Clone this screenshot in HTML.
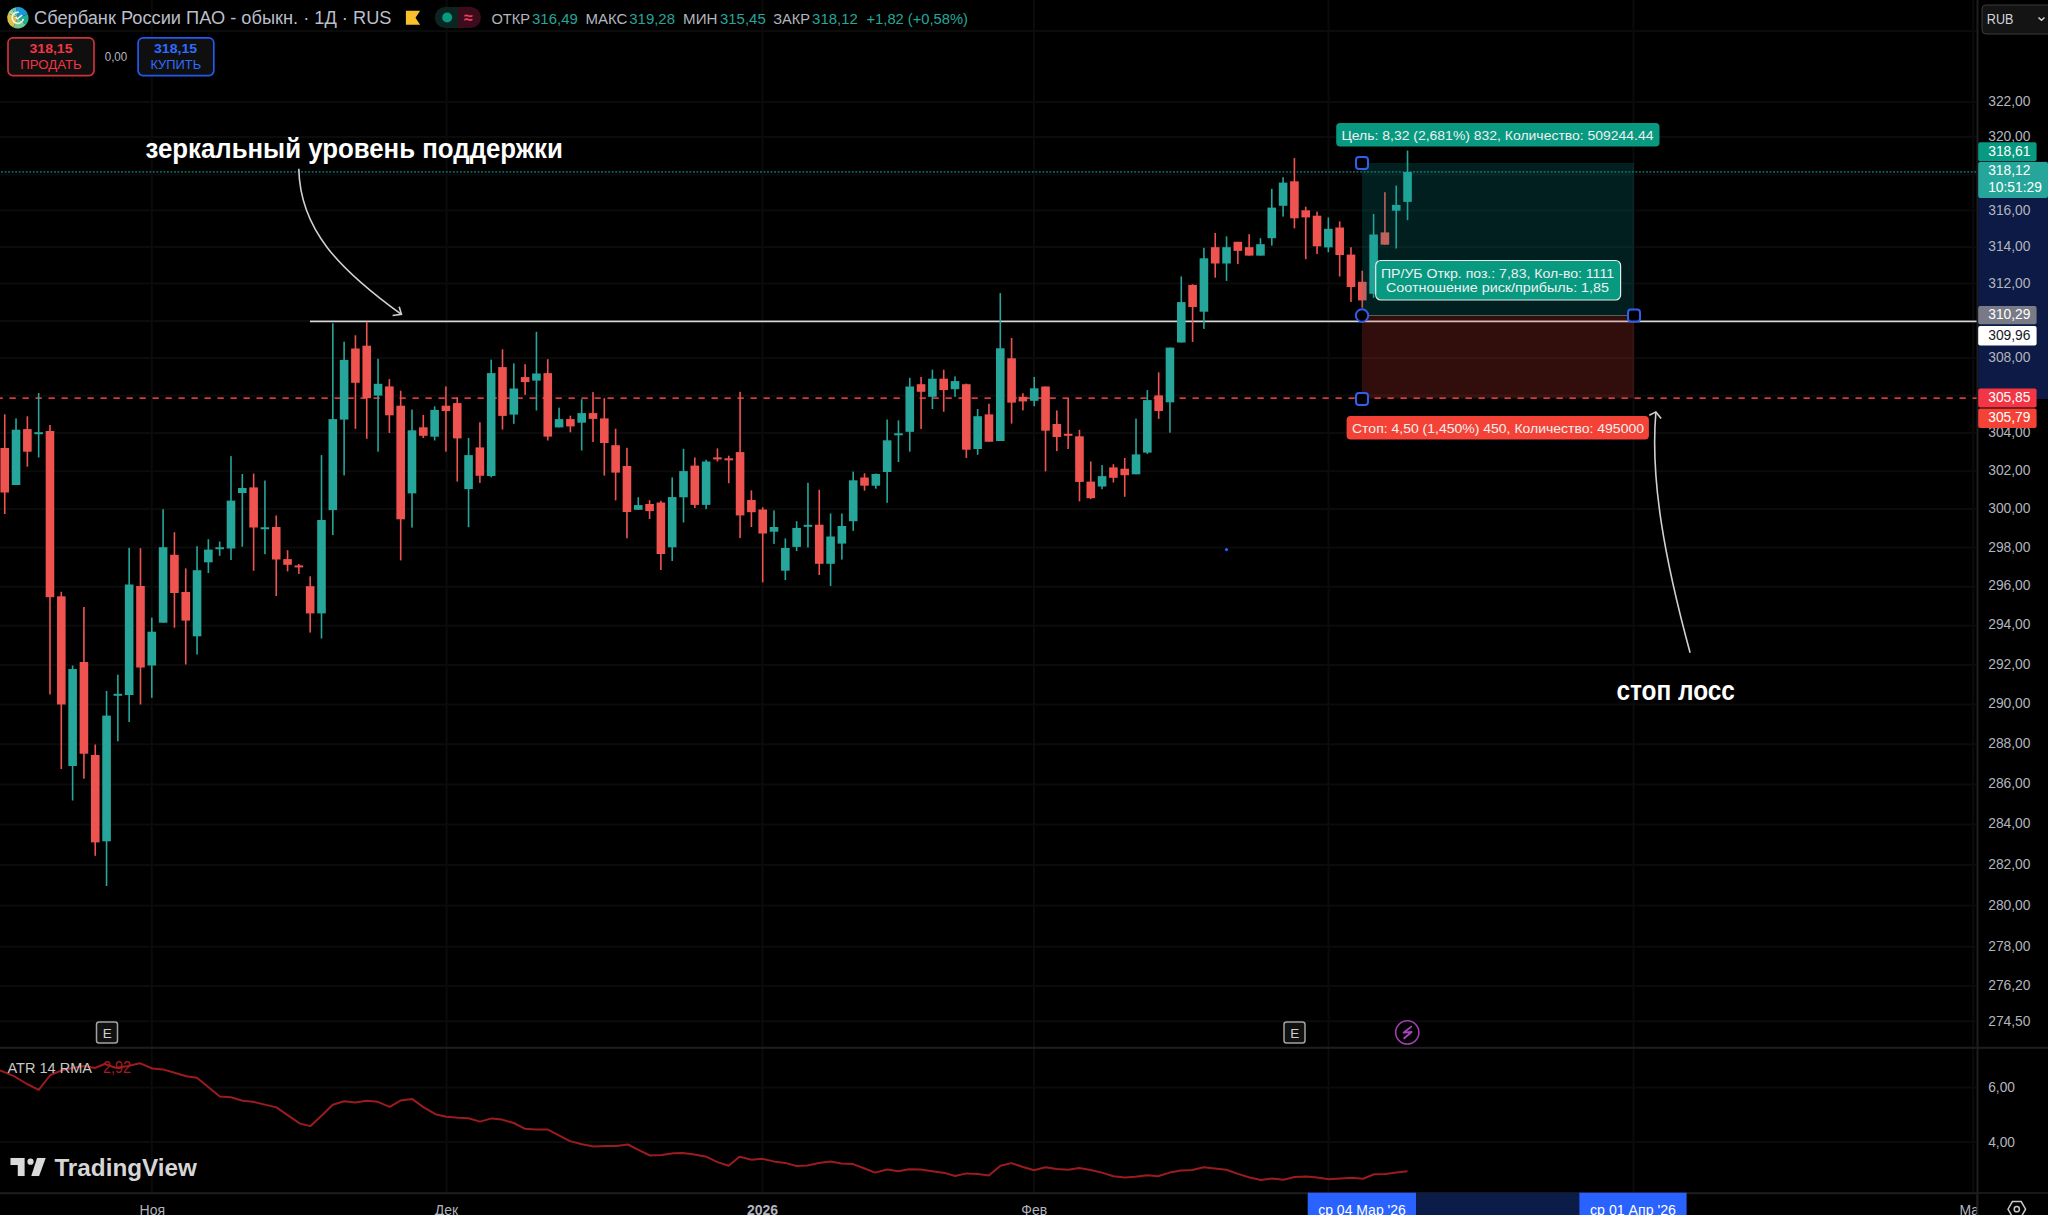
<!DOCTYPE html>
<html><head><meta charset="utf-8"><title>Сбербанк — TradingView</title>
<style>
html,body{margin:0;padding:0;background:#000;width:2048px;height:1215px;overflow:hidden}
svg{display:block}
</style></head><body>
<svg width="2048" height="1215" viewBox="0 0 2048 1215" shape-rendering="auto">
<rect width="2048" height="1215" fill="#000"/>
<rect x="0" y="30" width="1977" height="2" fill="#0b0b0b"/>
<rect x="0" y="101" width="1977" height="2" fill="#0b0b0b"/>
<rect x="0" y="136" width="1977" height="2" fill="#0b0b0b"/>
<rect x="0" y="173.5" width="1977" height="2" fill="#0b0b0b"/>
<rect x="0" y="209.4" width="1977" height="2" fill="#0b0b0b"/>
<rect x="0" y="246" width="1977" height="2" fill="#0b0b0b"/>
<rect x="0" y="282.5" width="1977" height="2" fill="#0b0b0b"/>
<rect x="0" y="320" width="1977" height="2" fill="#0b0b0b"/>
<rect x="0" y="357" width="1977" height="2" fill="#0b0b0b"/>
<rect x="0" y="394.6" width="1977" height="2" fill="#0b0b0b"/>
<rect x="0" y="432" width="1977" height="2" fill="#0b0b0b"/>
<rect x="0" y="470.2" width="1977" height="2" fill="#0b0b0b"/>
<rect x="0" y="508" width="1977" height="2" fill="#0b0b0b"/>
<rect x="0" y="546.6" width="1977" height="2" fill="#0b0b0b"/>
<rect x="0" y="585.8" width="1977" height="2" fill="#0b0b0b"/>
<rect x="0" y="624.7" width="1977" height="2" fill="#0b0b0b"/>
<rect x="0" y="664" width="1977" height="2" fill="#0b0b0b"/>
<rect x="0" y="703.5" width="1977" height="2" fill="#0b0b0b"/>
<rect x="0" y="743.2" width="1977" height="2" fill="#0b0b0b"/>
<rect x="0" y="783.4" width="1977" height="2" fill="#0b0b0b"/>
<rect x="0" y="823.5" width="1977" height="2" fill="#0b0b0b"/>
<rect x="0" y="864" width="1977" height="2" fill="#0b0b0b"/>
<rect x="0" y="904.6" width="1977" height="2" fill="#0b0b0b"/>
<rect x="0" y="945.7" width="1977" height="2" fill="#0b0b0b"/>
<rect x="0" y="985" width="1977" height="2" fill="#0b0b0b"/>
<rect x="0" y="1020.2" width="1977" height="2" fill="#0b0b0b"/>
<rect x="0" y="1086.6" width="1977" height="2" fill="#0b0b0b"/>
<rect x="0" y="1141" width="1977" height="2" fill="#0b0b0b"/>
<rect x="150.8" y="0" width="2" height="1193" fill="#0b0b0b"/>
<rect x="445.6" y="0" width="2" height="1193" fill="#0b0b0b"/>
<rect x="761.5" y="0" width="2" height="1193" fill="#0b0b0b"/>
<rect x="1033" y="0" width="2" height="1193" fill="#0b0b0b"/>
<rect x="1327.5" y="0" width="2" height="1193" fill="#0b0b0b"/>
<rect x="1632.5" y="0" width="2" height="1193" fill="#0b0b0b"/>
<rect x="1972.2" y="0" width="2" height="1193" fill="#0b0b0b"/>
<line x1="-3.5" y1="398.2" x2="1977" y2="398.2" stroke="#d13a41" stroke-width="1.7" stroke-dasharray="6.3 6.7"/>
<line x1="-2.47" y1="171.9" x2="1977" y2="171.9" stroke="#10625a" stroke-width="1.9" stroke-dasharray="1.9 1.63"/>
<rect x="310" y="320.55" width="1667" height="1.7" fill="#d8d8d8"/>
<rect x="3.93" y="414.3" width="1.6" height="99.7" fill="#ef5350"/>
<rect x="0.43" y="448" width="8.6" height="44.5" fill="#ef5350"/>
<rect x="15.24" y="418.4" width="1.6" height="66.6" fill="#26a69a"/>
<rect x="11.74" y="429.7" width="8.6" height="55.3" fill="#26a69a"/>
<rect x="26.56" y="416.3" width="1.6" height="50.4" fill="#ef5350"/>
<rect x="23.06" y="429.1" width="8.6" height="22.6" fill="#ef5350"/>
<rect x="37.87" y="393" width="1.6" height="64.5" fill="#26a69a"/>
<rect x="34.37" y="432.2" width="8.6" height="2" fill="#26a69a"/>
<rect x="49.18" y="425" width="1.6" height="269.5" fill="#ef5350"/>
<rect x="45.68" y="431" width="8.6" height="166.2" fill="#ef5350"/>
<rect x="60.5" y="591.8" width="1.6" height="177.2" fill="#ef5350"/>
<rect x="57" y="596.3" width="8.6" height="108.2" fill="#ef5350"/>
<rect x="71.81" y="665.5" width="1.6" height="135" fill="#26a69a"/>
<rect x="68.31" y="669" width="8.6" height="97" fill="#26a69a"/>
<rect x="83.12" y="607" width="1.6" height="171.7" fill="#ef5350"/>
<rect x="79.62" y="662" width="8.6" height="91.7" fill="#ef5350"/>
<rect x="94.44" y="744.5" width="1.6" height="111.3" fill="#ef5350"/>
<rect x="90.94" y="755" width="8.6" height="87.4" fill="#ef5350"/>
<rect x="105.75" y="691" width="1.6" height="195" fill="#26a69a"/>
<rect x="102.25" y="715.6" width="8.6" height="125.7" fill="#26a69a"/>
<rect x="117.06" y="674.7" width="1.6" height="66.6" fill="#26a69a"/>
<rect x="113.56" y="693.8" width="8.6" height="2" fill="#26a69a"/>
<rect x="128.37" y="547.8" width="1.6" height="174.2" fill="#26a69a"/>
<rect x="124.87" y="584.5" width="8.6" height="110.5" fill="#26a69a"/>
<rect x="139.69" y="548.2" width="1.6" height="156.3" fill="#ef5350"/>
<rect x="136.19" y="586" width="8.6" height="81.5" fill="#ef5350"/>
<rect x="151" y="617.6" width="1.6" height="80.2" fill="#26a69a"/>
<rect x="147.5" y="631.7" width="8.6" height="33.8" fill="#26a69a"/>
<rect x="162.31" y="509.2" width="1.6" height="113.5" fill="#26a69a"/>
<rect x="158.81" y="547.2" width="8.6" height="75.5" fill="#26a69a"/>
<rect x="173.63" y="532.2" width="1.6" height="95.5" fill="#ef5350"/>
<rect x="170.13" y="554.8" width="8.6" height="38.2" fill="#ef5350"/>
<rect x="184.94" y="568.4" width="1.6" height="96.1" fill="#ef5350"/>
<rect x="181.44" y="592" width="8.6" height="28.6" fill="#ef5350"/>
<rect x="196.25" y="546.2" width="1.6" height="108.3" fill="#26a69a"/>
<rect x="192.75" y="570.2" width="8.6" height="66.1" fill="#26a69a"/>
<rect x="207.56" y="539.2" width="1.6" height="33.8" fill="#26a69a"/>
<rect x="204.06" y="549.6" width="8.6" height="12.7" fill="#26a69a"/>
<rect x="218.88" y="541.5" width="1.6" height="14.3" fill="#26a69a"/>
<rect x="215.38" y="547.25" width="8.6" height="2" fill="#26a69a"/>
<rect x="230.19" y="456.1" width="1.6" height="103.9" fill="#26a69a"/>
<rect x="226.69" y="500.6" width="8.6" height="47.9" fill="#26a69a"/>
<rect x="241.5" y="474" width="1.6" height="72.7" fill="#26a69a"/>
<rect x="238" y="488" width="8.6" height="5" fill="#26a69a"/>
<rect x="252.82" y="473.6" width="1.6" height="97.2" fill="#ef5350"/>
<rect x="249.32" y="487.4" width="8.6" height="40.1" fill="#ef5350"/>
<rect x="264.13" y="480.5" width="1.6" height="73.7" fill="#26a69a"/>
<rect x="260.63" y="527.25" width="8.6" height="2" fill="#26a69a"/>
<rect x="275.44" y="515.5" width="1.6" height="80.5" fill="#ef5350"/>
<rect x="271.94" y="527" width="8.6" height="32.5" fill="#ef5350"/>
<rect x="286.76" y="550.2" width="1.6" height="21.2" fill="#ef5350"/>
<rect x="283.26" y="559.1" width="8.6" height="5.7" fill="#ef5350"/>
<rect x="298.07" y="564" width="1.6" height="10" fill="#ef5350"/>
<rect x="294.57" y="565.4" width="8.6" height="2" fill="#ef5350"/>
<rect x="309.38" y="576.3" width="1.6" height="56.3" fill="#ef5350"/>
<rect x="305.88" y="586.2" width="8.6" height="27.2" fill="#ef5350"/>
<rect x="320.69" y="455.1" width="1.6" height="183.4" fill="#26a69a"/>
<rect x="317.19" y="520" width="8.6" height="93.4" fill="#26a69a"/>
<rect x="332.01" y="323.3" width="1.6" height="211.8" fill="#26a69a"/>
<rect x="328.51" y="419.1" width="8.6" height="91" fill="#26a69a"/>
<rect x="343.32" y="341.7" width="1.6" height="133.7" fill="#26a69a"/>
<rect x="339.82" y="359.9" width="8.6" height="59.7" fill="#26a69a"/>
<rect x="354.63" y="335.3" width="1.6" height="93.5" fill="#ef5350"/>
<rect x="351.13" y="348.5" width="8.6" height="34.3" fill="#ef5350"/>
<rect x="365.95" y="321.8" width="1.6" height="117" fill="#ef5350"/>
<rect x="362.45" y="345.7" width="8.6" height="52.5" fill="#ef5350"/>
<rect x="377.26" y="358.8" width="1.6" height="92.9" fill="#26a69a"/>
<rect x="373.76" y="383.8" width="8.6" height="11.8" fill="#26a69a"/>
<rect x="388.57" y="379.1" width="1.6" height="53.9" fill="#ef5350"/>
<rect x="385.07" y="386.4" width="8.6" height="28.9" fill="#ef5350"/>
<rect x="399.89" y="390.7" width="1.6" height="169.7" fill="#ef5350"/>
<rect x="396.39" y="405.7" width="8.6" height="113.6" fill="#ef5350"/>
<rect x="411.2" y="409.5" width="1.6" height="118.1" fill="#26a69a"/>
<rect x="407.7" y="430.3" width="8.6" height="63.1" fill="#26a69a"/>
<rect x="422.51" y="414.9" width="1.6" height="23.1" fill="#ef5350"/>
<rect x="419.01" y="427.3" width="8.6" height="8.5" fill="#ef5350"/>
<rect x="433.82" y="406.3" width="1.6" height="34.2" fill="#26a69a"/>
<rect x="430.32" y="409.9" width="8.6" height="26.8" fill="#26a69a"/>
<rect x="445.14" y="386.4" width="1.6" height="65.3" fill="#ef5350"/>
<rect x="441.64" y="405.7" width="8.6" height="5.3" fill="#ef5350"/>
<rect x="456.45" y="397.3" width="1.6" height="84.3" fill="#ef5350"/>
<rect x="452.95" y="403.1" width="8.6" height="35.3" fill="#ef5350"/>
<rect x="467.76" y="438" width="1.6" height="89.2" fill="#26a69a"/>
<rect x="464.26" y="455.1" width="8.6" height="34" fill="#26a69a"/>
<rect x="479.08" y="422.3" width="1.6" height="60.6" fill="#ef5350"/>
<rect x="475.58" y="447.4" width="8.6" height="28.4" fill="#ef5350"/>
<rect x="490.39" y="359.6" width="1.6" height="117.7" fill="#26a69a"/>
<rect x="486.89" y="373.1" width="8.6" height="102.9" fill="#26a69a"/>
<rect x="501.7" y="349.3" width="1.6" height="80.3" fill="#ef5350"/>
<rect x="498.2" y="367.1" width="8.6" height="48.8" fill="#ef5350"/>
<rect x="513.02" y="363.4" width="1.6" height="60.4" fill="#26a69a"/>
<rect x="509.52" y="388.5" width="8.6" height="26.1" fill="#26a69a"/>
<rect x="524.33" y="364.3" width="1.6" height="30.6" fill="#ef5350"/>
<rect x="520.83" y="377.1" width="8.6" height="5" fill="#ef5350"/>
<rect x="535.64" y="331.8" width="1.6" height="78.7" fill="#26a69a"/>
<rect x="532.14" y="373.5" width="8.6" height="7.1" fill="#26a69a"/>
<rect x="546.96" y="359.2" width="1.6" height="81.3" fill="#ef5350"/>
<rect x="543.46" y="373.1" width="8.6" height="63.5" fill="#ef5350"/>
<rect x="558.27" y="407.7" width="1.6" height="19.7" fill="#26a69a"/>
<rect x="554.77" y="419.1" width="8.6" height="8.3" fill="#26a69a"/>
<rect x="569.58" y="415.7" width="1.6" height="16.6" fill="#ef5350"/>
<rect x="566.08" y="419.1" width="8.6" height="7.3" fill="#ef5350"/>
<rect x="580.89" y="399.2" width="1.6" height="51.3" fill="#26a69a"/>
<rect x="577.39" y="413.1" width="8.6" height="9.6" fill="#26a69a"/>
<rect x="592.21" y="392.1" width="1.6" height="49.9" fill="#ef5350"/>
<rect x="588.71" y="413.1" width="8.6" height="5.8" fill="#ef5350"/>
<rect x="603.52" y="398.1" width="1.6" height="77.5" fill="#ef5350"/>
<rect x="600.02" y="418.4" width="8.6" height="24.6" fill="#ef5350"/>
<rect x="614.83" y="428.7" width="1.6" height="71.7" fill="#ef5350"/>
<rect x="611.33" y="445.2" width="8.6" height="27.4" fill="#ef5350"/>
<rect x="626.15" y="447.8" width="1.6" height="90.5" fill="#ef5350"/>
<rect x="622.65" y="466" width="8.6" height="46" fill="#ef5350"/>
<rect x="637.46" y="497.2" width="1.6" height="12.6" fill="#26a69a"/>
<rect x="633.96" y="505.1" width="8.6" height="4.7" fill="#26a69a"/>
<rect x="648.77" y="500.2" width="1.6" height="18.8" fill="#ef5350"/>
<rect x="645.27" y="504" width="8.6" height="7.1" fill="#ef5350"/>
<rect x="660.09" y="500.8" width="1.6" height="69.2" fill="#ef5350"/>
<rect x="656.59" y="502.5" width="8.6" height="51.5" fill="#ef5350"/>
<rect x="671.4" y="477.4" width="1.6" height="83.6" fill="#26a69a"/>
<rect x="667.9" y="497.1" width="8.6" height="50.2" fill="#26a69a"/>
<rect x="682.71" y="448.8" width="1.6" height="73.7" fill="#26a69a"/>
<rect x="679.21" y="471.1" width="8.6" height="26.2" fill="#26a69a"/>
<rect x="694.02" y="457.5" width="1.6" height="50.5" fill="#ef5350"/>
<rect x="690.52" y="465.6" width="8.6" height="39.3" fill="#ef5350"/>
<rect x="705.34" y="459.7" width="1.6" height="49.4" fill="#26a69a"/>
<rect x="701.84" y="461.5" width="8.6" height="43.4" fill="#26a69a"/>
<rect x="716.65" y="448.4" width="1.6" height="13.1" fill="#ef5350"/>
<rect x="713.15" y="457.4" width="8.6" height="2" fill="#ef5350"/>
<rect x="727.96" y="455.7" width="1.6" height="27.5" fill="#ef5350"/>
<rect x="724.46" y="458.3" width="8.6" height="2" fill="#ef5350"/>
<rect x="739.28" y="391.8" width="1.6" height="146.3" fill="#ef5350"/>
<rect x="735.78" y="452.1" width="8.6" height="63.3" fill="#ef5350"/>
<rect x="750.59" y="490.4" width="1.6" height="36.6" fill="#ef5350"/>
<rect x="747.09" y="500" width="8.6" height="12.2" fill="#ef5350"/>
<rect x="761.9" y="507.3" width="1.6" height="75.1" fill="#ef5350"/>
<rect x="758.4" y="509.5" width="8.6" height="24" fill="#ef5350"/>
<rect x="773.22" y="510.4" width="1.6" height="33.5" fill="#26a69a"/>
<rect x="769.72" y="527" width="8.6" height="4.7" fill="#26a69a"/>
<rect x="784.53" y="538.4" width="1.6" height="41.7" fill="#26a69a"/>
<rect x="781.03" y="548" width="8.6" height="22.7" fill="#26a69a"/>
<rect x="795.84" y="521.2" width="1.6" height="29.9" fill="#26a69a"/>
<rect x="792.34" y="527.9" width="8.6" height="19" fill="#26a69a"/>
<rect x="807.15" y="482.8" width="1.6" height="64.8" fill="#26a69a"/>
<rect x="803.65" y="524.8" width="8.6" height="2" fill="#26a69a"/>
<rect x="818.47" y="489.8" width="1.6" height="85.2" fill="#ef5350"/>
<rect x="814.97" y="524.7" width="8.6" height="39.1" fill="#ef5350"/>
<rect x="829.78" y="513.5" width="1.6" height="72.5" fill="#26a69a"/>
<rect x="826.28" y="536.5" width="8.6" height="27.3" fill="#26a69a"/>
<rect x="841.09" y="513.5" width="1.6" height="46.1" fill="#26a69a"/>
<rect x="837.59" y="526" width="8.6" height="17.6" fill="#26a69a"/>
<rect x="852.41" y="471.6" width="1.6" height="59.3" fill="#26a69a"/>
<rect x="848.91" y="480.3" width="8.6" height="40.9" fill="#26a69a"/>
<rect x="863.72" y="473.3" width="1.6" height="17.4" fill="#ef5350"/>
<rect x="860.22" y="477.5" width="8.6" height="8.2" fill="#ef5350"/>
<rect x="875.03" y="473.5" width="1.6" height="15.2" fill="#26a69a"/>
<rect x="871.53" y="474" width="8.6" height="11.7" fill="#26a69a"/>
<rect x="886.35" y="419.5" width="1.6" height="83.3" fill="#26a69a"/>
<rect x="882.85" y="440.3" width="8.6" height="31.7" fill="#26a69a"/>
<rect x="897.66" y="420.4" width="1.6" height="41.6" fill="#26a69a"/>
<rect x="894.16" y="433.3" width="8.6" height="2" fill="#26a69a"/>
<rect x="908.97" y="377.8" width="1.6" height="73.9" fill="#26a69a"/>
<rect x="905.47" y="386.5" width="8.6" height="45.3" fill="#26a69a"/>
<rect x="920.28" y="376.9" width="1.6" height="52.2" fill="#ef5350"/>
<rect x="916.78" y="384.2" width="8.6" height="7.6" fill="#ef5350"/>
<rect x="931.6" y="369.7" width="1.6" height="39.3" fill="#26a69a"/>
<rect x="928.1" y="378.7" width="8.6" height="18.1" fill="#26a69a"/>
<rect x="942.91" y="369.7" width="1.6" height="42" fill="#ef5350"/>
<rect x="939.41" y="378.7" width="8.6" height="11.4" fill="#ef5350"/>
<rect x="954.22" y="376.4" width="1.6" height="20.4" fill="#26a69a"/>
<rect x="950.72" y="381.1" width="8.6" height="8.1" fill="#26a69a"/>
<rect x="965.54" y="383.6" width="1.6" height="74.4" fill="#ef5350"/>
<rect x="962.04" y="384.2" width="8.6" height="65.5" fill="#ef5350"/>
<rect x="976.85" y="409" width="1.6" height="45.8" fill="#26a69a"/>
<rect x="973.35" y="416.2" width="8.6" height="32.8" fill="#26a69a"/>
<rect x="988.16" y="403.7" width="1.6" height="38" fill="#ef5350"/>
<rect x="984.66" y="414.4" width="8.6" height="27.3" fill="#ef5350"/>
<rect x="999.48" y="293.1" width="1.6" height="147.9" fill="#26a69a"/>
<rect x="995.98" y="348.3" width="8.6" height="92.7" fill="#26a69a"/>
<rect x="1010.79" y="338" width="1.6" height="85.6" fill="#ef5350"/>
<rect x="1007.29" y="358.3" width="8.6" height="44.3" fill="#ef5350"/>
<rect x="1022.1" y="393.2" width="1.6" height="17.2" fill="#ef5350"/>
<rect x="1018.6" y="396.8" width="8.6" height="4.6" fill="#ef5350"/>
<rect x="1033.41" y="376.9" width="1.6" height="29.3" fill="#26a69a"/>
<rect x="1029.91" y="388.3" width="8.6" height="12.5" fill="#26a69a"/>
<rect x="1044.73" y="386.5" width="1.6" height="84.9" fill="#ef5350"/>
<rect x="1041.23" y="386.5" width="8.6" height="44.2" fill="#ef5350"/>
<rect x="1056.04" y="410.4" width="1.6" height="40.7" fill="#ef5350"/>
<rect x="1052.54" y="424" width="8.6" height="13" fill="#ef5350"/>
<rect x="1067.35" y="398.1" width="1.6" height="50.9" fill="#ef5350"/>
<rect x="1063.85" y="433.8" width="8.6" height="2" fill="#ef5350"/>
<rect x="1078.67" y="429.8" width="1.6" height="71.5" fill="#ef5350"/>
<rect x="1075.17" y="436.3" width="8.6" height="45.6" fill="#ef5350"/>
<rect x="1089.98" y="461.5" width="1.6" height="37.6" fill="#ef5350"/>
<rect x="1086.48" y="481.6" width="8.6" height="16.6" fill="#ef5350"/>
<rect x="1101.29" y="465.1" width="1.6" height="24.1" fill="#26a69a"/>
<rect x="1097.79" y="476.1" width="8.6" height="10.4" fill="#26a69a"/>
<rect x="1112.61" y="464.2" width="1.6" height="18.3" fill="#ef5350"/>
<rect x="1109.11" y="467.4" width="8.6" height="10.4" fill="#ef5350"/>
<rect x="1123.92" y="458" width="1.6" height="38.8" fill="#ef5350"/>
<rect x="1120.42" y="468.7" width="8.6" height="6.5" fill="#ef5350"/>
<rect x="1135.23" y="418.6" width="1.6" height="55.7" fill="#26a69a"/>
<rect x="1131.73" y="454.4" width="8.6" height="19.9" fill="#26a69a"/>
<rect x="1146.54" y="390.1" width="1.6" height="63.8" fill="#26a69a"/>
<rect x="1143.04" y="400.1" width="8.6" height="52.5" fill="#26a69a"/>
<rect x="1157.86" y="372.4" width="1.6" height="46.5" fill="#ef5350"/>
<rect x="1154.36" y="395.4" width="8.6" height="15.6" fill="#ef5350"/>
<rect x="1169.17" y="347.6" width="1.6" height="85.1" fill="#26a69a"/>
<rect x="1165.67" y="347.6" width="8.6" height="54.7" fill="#26a69a"/>
<rect x="1180.48" y="276.4" width="1.6" height="66.1" fill="#26a69a"/>
<rect x="1176.98" y="302.1" width="8.6" height="40.4" fill="#26a69a"/>
<rect x="1191.8" y="284.3" width="1.6" height="57.6" fill="#ef5350"/>
<rect x="1188.3" y="284.9" width="8.6" height="22.1" fill="#ef5350"/>
<rect x="1203.11" y="247.8" width="1.6" height="81.1" fill="#26a69a"/>
<rect x="1199.61" y="258.3" width="8.6" height="53.4" fill="#26a69a"/>
<rect x="1214.42" y="232.9" width="1.6" height="44.8" fill="#ef5350"/>
<rect x="1210.92" y="247.2" width="8.6" height="16.3" fill="#ef5350"/>
<rect x="1225.74" y="236.4" width="1.6" height="44.5" fill="#26a69a"/>
<rect x="1222.24" y="247.2" width="8.6" height="16.3" fill="#26a69a"/>
<rect x="1237.05" y="241.8" width="1.6" height="22.3" fill="#ef5350"/>
<rect x="1233.55" y="241.8" width="8.6" height="9.1" fill="#ef5350"/>
<rect x="1248.36" y="234.2" width="1.6" height="21.4" fill="#ef5350"/>
<rect x="1244.86" y="247.2" width="8.6" height="8.4" fill="#ef5350"/>
<rect x="1259.67" y="238.2" width="1.6" height="17.4" fill="#26a69a"/>
<rect x="1256.17" y="244.2" width="8.6" height="11.4" fill="#26a69a"/>
<rect x="1270.99" y="188.9" width="1.6" height="56.7" fill="#26a69a"/>
<rect x="1267.49" y="207.6" width="8.6" height="30.6" fill="#26a69a"/>
<rect x="1282.3" y="177.2" width="1.6" height="39.4" fill="#26a69a"/>
<rect x="1278.8" y="182.6" width="8.6" height="23.2" fill="#26a69a"/>
<rect x="1293.61" y="158.1" width="1.6" height="70.3" fill="#ef5350"/>
<rect x="1290.11" y="181.3" width="8.6" height="37" fill="#ef5350"/>
<rect x="1304.93" y="206.7" width="1.6" height="52.5" fill="#ef5350"/>
<rect x="1301.43" y="210.3" width="8.6" height="7.1" fill="#ef5350"/>
<rect x="1316.24" y="211.6" width="1.6" height="42.5" fill="#ef5350"/>
<rect x="1312.74" y="215.7" width="8.6" height="30.6" fill="#ef5350"/>
<rect x="1327.55" y="217.4" width="1.6" height="34.9" fill="#26a69a"/>
<rect x="1324.05" y="228.8" width="8.6" height="18.6" fill="#26a69a"/>
<rect x="1338.87" y="221.4" width="1.6" height="55.1" fill="#ef5350"/>
<rect x="1335.37" y="227.5" width="8.6" height="27.5" fill="#ef5350"/>
<rect x="1350.18" y="247.2" width="1.6" height="54.8" fill="#ef5350"/>
<rect x="1346.68" y="254.6" width="8.6" height="32.4" fill="#ef5350"/>
<rect x="1361.49" y="270.7" width="1.6" height="37.1" fill="#ef5350"/>
<rect x="1357.99" y="281.8" width="8.6" height="18.6" fill="#ef5350"/>
<rect x="1372.8" y="214" width="1.6" height="83.9" fill="#26a69a"/>
<rect x="1369.3" y="234.5" width="8.6" height="59.3" fill="#26a69a"/>
<rect x="1384.12" y="192.2" width="1.6" height="52.5" fill="#ef5350"/>
<rect x="1380.62" y="232.4" width="8.6" height="12.3" fill="#ef5350"/>
<rect x="1395.43" y="185.6" width="1.6" height="62.9" fill="#26a69a"/>
<rect x="1391.93" y="204.9" width="8.6" height="5.8" fill="#26a69a"/>
<rect x="1406.74" y="150.6" width="1.6" height="69.6" fill="#26a69a"/>
<rect x="1403.24" y="172" width="8.6" height="29.9" fill="#26a69a"/>
<rect x="1362" y="163" width="272" height="152.5" fill="rgba(0,155,150,0.2)"/>
<rect x="1362" y="315.5" width="272" height="83" fill="rgba(244,67,54,0.2)"/>
<rect x="1362" y="315" width="272" height="1" fill="#5d5d5d"/>
<rect x="1356" y="157" width="12" height="12" rx="3" fill="#000" stroke="#2f5ff0" stroke-width="2"/>
<rect x="1628" y="309.5" width="12" height="12" rx="3" fill="#000" stroke="#2f5ff0" stroke-width="2"/>
<rect x="1356" y="393" width="12" height="12" rx="3" fill="#000" stroke="#2f5ff0" stroke-width="2"/>
<circle cx="1362" cy="315.5" r="6.2" fill="#000" stroke="#2f5ff0" stroke-width="2"/>
<rect x="1336.2" y="123" width="323.3" height="23.5" rx="4" fill="#089981"/>
<text x="1341.5" y="139.6" font-family='"Liberation Sans","DejaVu Sans",sans-serif' font-size="13.4" fill="#f0f0f0" textLength="312" lengthAdjust="spacingAndGlyphs">Цель: 8,32 (2,681%) 832, Количество: 509244.44</text>
<rect x="1346.6" y="416" width="302.3" height="23.6" rx="4" fill="#f44336"/>
<text x="1352" y="433" font-family='"Liberation Sans","DejaVu Sans",sans-serif' font-size="13.4" fill="#f0f0f0" textLength="292" lengthAdjust="spacingAndGlyphs">Стоп: 4,50 (1,450%) 450, Количество: 495000</text>
<rect x="1375.7" y="260.5" width="244.9" height="39.5" rx="5" fill="#089981" stroke="#e8e8e8" stroke-width="1.2"/>
<text x="1381" y="278" font-family='"Liberation Sans","DejaVu Sans",sans-serif' font-size="13.4" fill="#f0f0f0" textLength="233" lengthAdjust="spacingAndGlyphs">ПР/УБ Откр. поз.: 7,83, Кол-во: 1111</text>
<text x="1386" y="292.2" font-family='"Liberation Sans","DejaVu Sans",sans-serif' font-size="13.4" fill="#f0f0f0" textLength="223" lengthAdjust="spacingAndGlyphs">Соотношение риск/прибыль: 1,85</text>
<text x="145.4" y="158.4" font-family='"Liberation Sans","DejaVu Sans",sans-serif' font-size="27.5" font-weight="bold" fill="#ffffff" textLength="417.5" lengthAdjust="spacingAndGlyphs">зеркальный уровень поддержки</text>
<path d="M298.8,168.8 C300,230 340,270 401.4,314.4" fill="none" stroke="#d0d0d0" stroke-width="1.6"/>
<path d="M392.6,315.5 L401.4,314.4 L399.2,306.7" fill="none" stroke="#d0d0d0" stroke-width="1.6"/>
<text x="1616.4" y="700.2" font-family='"Liberation Sans","DejaVu Sans",sans-serif' font-size="27" font-weight="bold" fill="#ffffff" textLength="118.5" lengthAdjust="spacingAndGlyphs">стоп лосс</text>
<path d="M1690.1,652.8 C1665,560 1650,480 1655.9,411.9" fill="none" stroke="#d0d0d0" stroke-width="1.6"/>
<path d="M1649.3,415.3 L1655.9,411.9 L1661.1,418.4" fill="none" stroke="#d0d0d0" stroke-width="1.6"/>
<rect x="96.5" y="1022" width="21" height="21" rx="2.5" fill="#111" stroke="#a2a2a2" stroke-width="1.5"/>
<text x="107.2" y="1037.9" text-anchor="middle" font-family='"Liberation Sans","DejaVu Sans",sans-serif' font-size="13.5" fill="#cfcfcf">E</text>
<rect x="1284" y="1022" width="21" height="21" rx="2.5" fill="#111" stroke="#a2a2a2" stroke-width="1.5"/>
<text x="1294.7" y="1037.9" text-anchor="middle" font-family='"Liberation Sans","DejaVu Sans",sans-serif' font-size="13.5" fill="#cfcfcf">E</text>
<circle cx="1407.3" cy="1032.4" r="11.6" fill="#000" stroke="#a83fb8" stroke-width="1.5"/>
<path d="M1411.2,1026.6 L1403.6,1032.7 L1411.6,1032 L1404.2,1038.3" fill="none" stroke="#ad44bf" stroke-width="1.8" stroke-linejoin="round" stroke-linecap="round"/>
<circle cx="1226.5" cy="549.6" r="1.6" fill="#2962ff"/>
<rect x="0" y="1046.8" width="2048" height="2" fill="#1e1e1e"/>
<rect x="0" y="1192.2" width="2048" height="2" fill="#1e1e1e"/>
<rect x="1976.5" y="0" width="2" height="1215" fill="#1e1e1e"/>
<polyline points="0,1070.3 14,1076.2 27,1084 38.7,1089.8 50.4,1075 62,1070.3 72.6,1068 84.4,1066.1 95,1068 104.5,1064 115.8,1067.7 127,1066.2 139.7,1063.2 152.3,1068.5 162.9,1069.4 174.6,1072.7 186.3,1076.2 196.9,1077.8 208.6,1087.2 219.8,1096.6 230.8,1097.3 242.6,1100.8 253.1,1101.8 264.8,1104.6 276.5,1107.4 288.3,1115.6 300,1123.6 310.5,1126.1 321.5,1115.8 332.8,1104.8 344,1101.3 355,1102.5 366.8,1100.8 377.8,1101.8 389.7,1106.9 400.8,1100.4 412,1098.9 423.7,1107.4 435.4,1114.2 446.4,1116.8 458.2,1117.7 468.5,1118.2 480,1121.6 491.7,1118.4 502,1119.6 513.7,1123 524.7,1128.7 535.7,1129.4 547.9,1129.6 558.9,1135.3 569.9,1141.1 582,1144.3 593.8,1146.5 605.3,1146 616.3,1146 628,1144.5 639.4,1150.4 650,1155.5 661.4,1155 673.6,1153.3 682.7,1153.1 694.4,1154.6 706.6,1156.8 717.6,1162.1 728.6,1165.8 739.5,1156.8 751.7,1159.7 762,1158.7 773.7,1161.4 785.2,1162.9 796.4,1166 807.2,1165.5 818.9,1162.9 830.6,1161.6 841.3,1163.6 853,1164.1 864,1168.2 875,1172.6 887.3,1169.5 898.2,1171.2 909.2,1169.2 920.9,1169.5 932.4,1171.2 944.6,1172.9 955.1,1176 966.4,1173.4 977.8,1174.1 988.8,1175.6 1000.5,1165.8 1011.5,1163.1 1023,1167 1034,1170.2 1045.5,1167.3 1056.7,1169 1068.2,1169.7 1079.2,1168 1090.6,1170 1101.9,1172.6 1113.3,1176.3 1124.8,1177.5 1135.3,1176.8 1147,1175.3 1158,1176.3 1169.5,1172.6 1181,1170.4 1192.2,1169.9 1203.7,1167.3 1214.7,1168.5 1226.4,1169.7 1237.9,1173.9 1249.6,1177.5 1261,1180 1272,1178.5 1283.5,1179.7 1294.7,1177 1306.2,1176.5 1317.2,1177.5 1328.9,1179.2 1340.4,1178.5 1351.6,1177.8 1363.1,1178.7 1374.1,1174.3 1385.6,1173.9 1396.5,1172.4 1407.5,1171.2" fill="none" stroke="#9b1b1e" stroke-width="2" stroke-linejoin="round"/>
<text x="7.5" y="1073.2" font-family='"Liberation Sans","DejaVu Sans",sans-serif' font-size="15.2" fill="#c8c8c8" textLength="84.5" lengthAdjust="spacingAndGlyphs">ATR 14 RMA</text>
<text x="103.1" y="1073.3" font-family='"Liberation Sans","DejaVu Sans",sans-serif' font-size="15.6" fill="#a51d22" textLength="28" lengthAdjust="spacingAndGlyphs">2,92</text>
<g fill="#dadada" stroke="#111" stroke-width="0.8" paint-order="stroke"><path d="M10.5,1158 H24.6 V1176 H17.8 V1165 H10.5 Z"/><circle cx="30.5" cy="1161.7" r="3.1"/><path d="M37.1,1158 H45.7 L39.1,1176 H31.3 Z"/></g>
<text x="54.4" y="1175.9" font-family='"Liberation Sans","DejaVu Sans",sans-serif' font-size="23.5" font-weight="bold" fill="#d6d6d6" textLength="142.5" lengthAdjust="spacingAndGlyphs">TradingView</text>
<rect x="1978.2" y="161.5" width="69.8" height="237.5" fill="#0c1a45"/>
<text x="1988.2" y="106" font-family='"Liberation Sans","DejaVu Sans",sans-serif' font-size="14.6" fill="#b2b5be" textLength="42.3" lengthAdjust="spacingAndGlyphs">322,00</text>
<text x="1988.2" y="141.3" font-family='"Liberation Sans","DejaVu Sans",sans-serif' font-size="14.6" fill="#b2b5be" textLength="42.3" lengthAdjust="spacingAndGlyphs">320,00</text>
<text x="1988.2" y="214.6" font-family='"Liberation Sans","DejaVu Sans",sans-serif' font-size="14.6" fill="#b2b5be" textLength="42.3" lengthAdjust="spacingAndGlyphs">316,00</text>
<text x="1988.2" y="251.3" font-family='"Liberation Sans","DejaVu Sans",sans-serif' font-size="14.6" fill="#b2b5be" textLength="42.3" lengthAdjust="spacingAndGlyphs">314,00</text>
<text x="1988.2" y="287.5" font-family='"Liberation Sans","DejaVu Sans",sans-serif' font-size="14.6" fill="#b2b5be" textLength="42.3" lengthAdjust="spacingAndGlyphs">312,00</text>
<text x="1988.2" y="362.3" font-family='"Liberation Sans","DejaVu Sans",sans-serif' font-size="14.6" fill="#b2b5be" textLength="42.3" lengthAdjust="spacingAndGlyphs">308,00</text>
<text x="1988.2" y="437" font-family='"Liberation Sans","DejaVu Sans",sans-serif' font-size="14.6" fill="#b2b5be" textLength="42.3" lengthAdjust="spacingAndGlyphs">304,00</text>
<text x="1988.2" y="475.3" font-family='"Liberation Sans","DejaVu Sans",sans-serif' font-size="14.6" fill="#b2b5be" textLength="42.3" lengthAdjust="spacingAndGlyphs">302,00</text>
<text x="1988.2" y="513.3" font-family='"Liberation Sans","DejaVu Sans",sans-serif' font-size="14.6" fill="#b2b5be" textLength="42.3" lengthAdjust="spacingAndGlyphs">300,00</text>
<text x="1988.2" y="551.6" font-family='"Liberation Sans","DejaVu Sans",sans-serif' font-size="14.6" fill="#b2b5be" textLength="42.3" lengthAdjust="spacingAndGlyphs">298,00</text>
<text x="1988.2" y="590.3" font-family='"Liberation Sans","DejaVu Sans",sans-serif' font-size="14.6" fill="#b2b5be" textLength="42.3" lengthAdjust="spacingAndGlyphs">296,00</text>
<text x="1988.2" y="629.3" font-family='"Liberation Sans","DejaVu Sans",sans-serif' font-size="14.6" fill="#b2b5be" textLength="42.3" lengthAdjust="spacingAndGlyphs">294,00</text>
<text x="1988.2" y="668.8" font-family='"Liberation Sans","DejaVu Sans",sans-serif' font-size="14.6" fill="#b2b5be" textLength="42.3" lengthAdjust="spacingAndGlyphs">292,00</text>
<text x="1988.2" y="708.3" font-family='"Liberation Sans","DejaVu Sans",sans-serif' font-size="14.6" fill="#b2b5be" textLength="42.3" lengthAdjust="spacingAndGlyphs">290,00</text>
<text x="1988.2" y="748.3" font-family='"Liberation Sans","DejaVu Sans",sans-serif' font-size="14.6" fill="#b2b5be" textLength="42.3" lengthAdjust="spacingAndGlyphs">288,00</text>
<text x="1988.2" y="788.3" font-family='"Liberation Sans","DejaVu Sans",sans-serif' font-size="14.6" fill="#b2b5be" textLength="42.3" lengthAdjust="spacingAndGlyphs">286,00</text>
<text x="1988.2" y="828.3" font-family='"Liberation Sans","DejaVu Sans",sans-serif' font-size="14.6" fill="#b2b5be" textLength="42.3" lengthAdjust="spacingAndGlyphs">284,00</text>
<text x="1988.2" y="868.8" font-family='"Liberation Sans","DejaVu Sans",sans-serif' font-size="14.6" fill="#b2b5be" textLength="42.3" lengthAdjust="spacingAndGlyphs">282,00</text>
<text x="1988.2" y="909.8" font-family='"Liberation Sans","DejaVu Sans",sans-serif' font-size="14.6" fill="#b2b5be" textLength="42.3" lengthAdjust="spacingAndGlyphs">280,00</text>
<text x="1988.2" y="951" font-family='"Liberation Sans","DejaVu Sans",sans-serif' font-size="14.6" fill="#b2b5be" textLength="42.3" lengthAdjust="spacingAndGlyphs">278,00</text>
<text x="1988.2" y="989.5" font-family='"Liberation Sans","DejaVu Sans",sans-serif' font-size="14.6" fill="#b2b5be" textLength="42.3" lengthAdjust="spacingAndGlyphs">276,20</text>
<text x="1988.2" y="1025.5" font-family='"Liberation Sans","DejaVu Sans",sans-serif' font-size="14.6" fill="#b2b5be" textLength="42.3" lengthAdjust="spacingAndGlyphs">274,50</text>
<text x="1988.2" y="1092.3" font-family='"Liberation Sans","DejaVu Sans",sans-serif' font-size="14.6" fill="#b2b5be" textLength="26.7" lengthAdjust="spacingAndGlyphs">6,00</text>
<text x="1988.2" y="1146.7" font-family='"Liberation Sans","DejaVu Sans",sans-serif' font-size="14.6" fill="#b2b5be" textLength="26.7" lengthAdjust="spacingAndGlyphs">4,00</text>
<rect x="1978.2" y="142.2" width="58.4" height="19" rx="2" fill="#089981"/>
<text x="1988.2" y="155.6" font-family='"Liberation Sans","DejaVu Sans",sans-serif' font-size="14.6" fill="#ffffff" textLength="42.3" lengthAdjust="spacingAndGlyphs">318,61</text>
<rect x="1978.2" y="162" width="69.8" height="36" rx="2" fill="#26a69a"/>
<text x="1988.2" y="175.3" font-family='"Liberation Sans","DejaVu Sans",sans-serif' font-size="14.6" fill="#ffffff" textLength="42.1" lengthAdjust="spacingAndGlyphs">318,12</text>
<text x="1988.2" y="191.6" font-family='"Liberation Sans","DejaVu Sans",sans-serif' font-size="14.6" fill="#ffffff" textLength="53.6" lengthAdjust="spacingAndGlyphs">10:51:29</text>
<rect x="1978.2" y="306" width="58.4" height="18.2" rx="2" fill="#787b86"/>
<text x="1988.2" y="319" font-family='"Liberation Sans","DejaVu Sans",sans-serif' font-size="14.6" fill="#ffffff" textLength="42.3" lengthAdjust="spacingAndGlyphs">310,29</text>
<rect x="1978.2" y="326" width="58.4" height="19.4" rx="2" fill="#ffffff"/>
<text x="1988.2" y="339.6" font-family='"Liberation Sans","DejaVu Sans",sans-serif' font-size="14.6" fill="#131722" textLength="42.3" lengthAdjust="spacingAndGlyphs">309,96</text>
<rect x="1978.2" y="388.5" width="58.4" height="19.1" rx="2" fill="#f23645"/>
<text x="1988.2" y="401.95" font-family='"Liberation Sans","DejaVu Sans",sans-serif' font-size="14.6" fill="#ffffff" textLength="42.3" lengthAdjust="spacingAndGlyphs">305,85</text>
<rect x="1978.2" y="408.4" width="58.4" height="19.6" rx="2" fill="#f44336"/>
<text x="1988.2" y="422.1" font-family='"Liberation Sans","DejaVu Sans",sans-serif' font-size="14.6" fill="#ffffff" textLength="42.3" lengthAdjust="spacingAndGlyphs">305,79</text>
<rect x="1982" y="5" width="72" height="29" rx="4" fill="#141414" stroke="#3a3a3a" stroke-width="1"/>
<text x="1986.8" y="23.8" font-family='"Liberation Sans","DejaVu Sans",sans-serif' font-size="14" fill="#d1d4dc" textLength="26.6" lengthAdjust="spacingAndGlyphs">RUB</text>
<path d="M2038.5,17.5 L2041.5,20.3 L2044.5,17.5" fill="none" stroke="#d1d4dc" stroke-width="1.5"/>
<rect x="1307.7" y="1192.7" width="108.3" height="23" fill="#2962ff"/>
<rect x="1416" y="1192.7" width="163.3" height="23" fill="#0c1c48"/>
<rect x="1579.3" y="1192.7" width="107.3" height="23" fill="#2962ff"/>
<text x="152.3" y="1214.6" text-anchor="middle" font-family='"Liberation Sans","DejaVu Sans",sans-serif' font-size="14" font-weight="normal" fill="#b2b5be">Ноя</text>
<text x="446.5" y="1214.6" text-anchor="middle" font-family='"Liberation Sans","DejaVu Sans",sans-serif' font-size="14" font-weight="normal" fill="#b2b5be">Дек</text>
<text x="762.5" y="1214.6" text-anchor="middle" font-family='"Liberation Sans","DejaVu Sans",sans-serif' font-size="14" font-weight="bold" fill="#b2b5be">2026</text>
<text x="1034.2" y="1214.6" text-anchor="middle" font-family='"Liberation Sans","DejaVu Sans",sans-serif' font-size="14" font-weight="normal" fill="#b2b5be">Фев</text>
<text x="1318.2" y="1214.6" font-family='"Liberation Sans","DejaVu Sans",sans-serif' font-size="14" fill="#ffffff" textLength="87.6" lengthAdjust="spacingAndGlyphs">ср 04 Мар '26</text>
<text x="1590" y="1214.6" font-family='"Liberation Sans","DejaVu Sans",sans-serif' font-size="14" fill="#ffffff" textLength="86" lengthAdjust="spacingAndGlyphs">ср 01 Апр '26</text>
<text x="1959.4" y="1214.6" font-family='"Liberation Sans","DejaVu Sans",sans-serif' font-size="14" fill="#b2b5be">Ма</text>
<rect x="1977" y="1193.8" width="71" height="22" fill="#000"/>
<rect x="1976.5" y="1192.2" width="2" height="23" fill="#1e1e1e"/>
<path d="M2012.4,1201.6 H2021.2 L2025.6,1209.2 L2021.2,1216.8 H2012.4 L2008,1209.2 Z" fill="none" stroke="#c8c8c8" stroke-width="1.5"/>
<circle cx="2016.8" cy="1209.2" r="2.6" fill="none" stroke="#c8c8c8" stroke-width="1.5"/>
<path d="M17.8,17.8 L15.94,7.26 A10.7,10.7 0 0,1 27.85,14.14 Z" fill="#1b98d5"/>
<path d="M17.8,17.8 L27.85,14.14 A10.7,10.7 0 0,1 26.00,24.68 Z" fill="#1eaf93"/>
<path d="M17.8,17.8 L26.00,24.68 A10.7,10.7 0 0,1 13.28,27.50 Z" fill="#6ccb8c"/>
<path d="M17.8,17.8 L13.28,27.50 A10.7,10.7 0 0,1 8.10,13.28 Z" fill="#d9c143"/>
<path d="M17.8,17.8 L8.10,13.28 A10.7,10.7 0 0,1 11.66,9.04 Z" fill="#a6d6a2"/>
<path d="M17.8,17.8 L11.66,9.04 A10.7,10.7 0 0,1 15.94,7.26 Z" fill="#5fc6b4"/>
<path d="M18.77,12.28 A5.6,5.6 0 1,0 23.31,18.77" fill="none" stroke="#f4f4f4" stroke-width="1.6"/>
<path d="M15.6,17.1 L17.5,18.5 L22.2,15.2" fill="none" stroke="#f4f4f4" stroke-width="1.5"/>
<text x="34" y="23.9" font-family='"Liberation Sans","DejaVu Sans",sans-serif' font-size="18" fill="#babec8" textLength="357.5" lengthAdjust="spacingAndGlyphs">Сбербанк России ПАО - обыкн. · 1Д · RUS</text>
<path d="M405.9,10.8 H420.1 L415.5,17.8 L420.1,24.8 H405.9 Z" fill="#f9c02c"/>
<path d="M445.2,7 H458 V28 H445.2 A10.5,10.5 0 0,1 445.2,7 Z" fill="#0b2521"/>
<path d="M458,7 H470.5 A10.5,10.5 0 0,1 470.5,28 H458 Z" fill="#3a0c1c"/>
<circle cx="447.2" cy="17.5" r="5" fill="#089981"/>
<text x="468.3" y="23" text-anchor="middle" font-family='"Liberation Sans","DejaVu Sans",sans-serif' font-size="16" font-weight="bold" fill="#f23d5c">≈</text>
<text x="491.4" y="24.1" font-family='"Liberation Sans","DejaVu Sans",sans-serif' font-size="15.5" fill="#b2b5be" textLength="38.6" lengthAdjust="spacingAndGlyphs">ОТКР</text>
<text x="532" y="24.1" font-family='"Liberation Sans","DejaVu Sans",sans-serif' font-size="15.5" fill="#26a69a" textLength="45.8" lengthAdjust="spacingAndGlyphs">316,49</text>
<text x="585.4" y="24.1" font-family='"Liberation Sans","DejaVu Sans",sans-serif' font-size="15.5" fill="#b2b5be" textLength="41.9" lengthAdjust="spacingAndGlyphs">МАКС</text>
<text x="629.3" y="24.1" font-family='"Liberation Sans","DejaVu Sans",sans-serif' font-size="15.5" fill="#26a69a" textLength="45.7" lengthAdjust="spacingAndGlyphs">319,28</text>
<text x="683.1" y="24.1" font-family='"Liberation Sans","DejaVu Sans",sans-serif' font-size="15.5" fill="#b2b5be" textLength="34.3" lengthAdjust="spacingAndGlyphs">МИН</text>
<text x="720" y="24.1" font-family='"Liberation Sans","DejaVu Sans",sans-serif' font-size="15.5" fill="#26a69a" textLength="45.7" lengthAdjust="spacingAndGlyphs">315,45</text>
<text x="773.3" y="24.1" font-family='"Liberation Sans","DejaVu Sans",sans-serif' font-size="15.5" fill="#b2b5be" textLength="36.8" lengthAdjust="spacingAndGlyphs">ЗАКР</text>
<text x="812.1" y="24.1" font-family='"Liberation Sans","DejaVu Sans",sans-serif' font-size="15.5" fill="#26a69a" textLength="45.8" lengthAdjust="spacingAndGlyphs">318,12</text>
<text x="866.5" y="24.1" font-family='"Liberation Sans","DejaVu Sans",sans-serif' font-size="15.5" fill="#26a69a" textLength="101.5" lengthAdjust="spacingAndGlyphs">+1,82 (+0,58%)</text>
<rect x="8" y="37.8" width="86" height="37.8" rx="5" fill="#0f0f0f" stroke="#cf313b" stroke-width="1.7"/>
<text x="51" y="52.9" text-anchor="middle" font-family='"Liberation Sans","DejaVu Sans",sans-serif' font-size="13" font-weight="bold" fill="#f23645" textLength="43" lengthAdjust="spacingAndGlyphs">318,15</text>
<text x="51" y="69.2" text-anchor="middle" font-family='"Liberation Sans","DejaVu Sans",sans-serif' font-size="12.5" fill="#f23645" textLength="61.6" lengthAdjust="spacingAndGlyphs">ПРОДАТЬ</text>
<text x="104.7" y="61.2" font-family='"Liberation Sans","DejaVu Sans",sans-serif' font-size="12.5" fill="#b2b5be" textLength="22.6" lengthAdjust="spacingAndGlyphs">0,00</text>
<rect x="138.1" y="37.8" width="75.7" height="37.8" rx="5" fill="#0f0f0f" stroke="#2359ee" stroke-width="1.7"/>
<text x="175.6" y="52.9" text-anchor="middle" font-family='"Liberation Sans","DejaVu Sans",sans-serif' font-size="13" font-weight="bold" fill="#2f6bff" textLength="43.2" lengthAdjust="spacingAndGlyphs">318,15</text>
<text x="175.8" y="69.2" text-anchor="middle" font-family='"Liberation Sans","DejaVu Sans",sans-serif' font-size="12.5" fill="#2f6bff" textLength="50.8" lengthAdjust="spacingAndGlyphs">КУПИТЬ</text>
</svg></body></html>
